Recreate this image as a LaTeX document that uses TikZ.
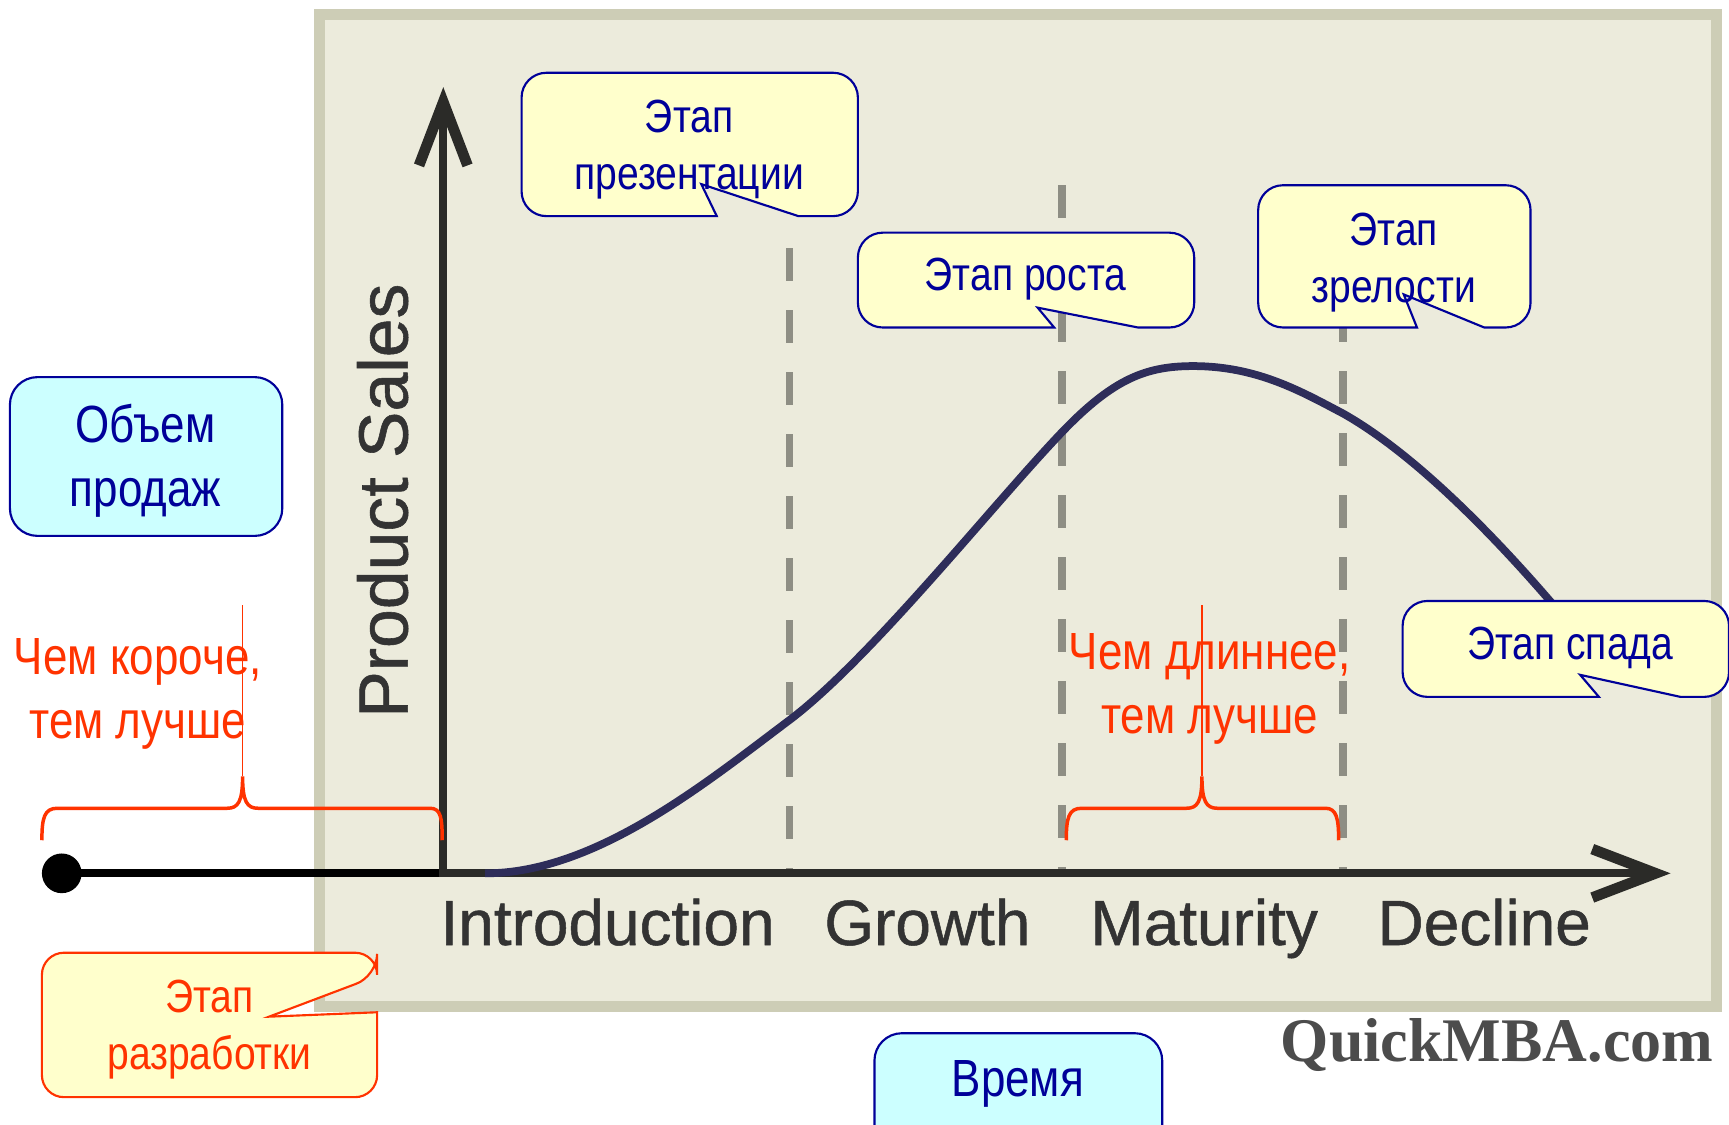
\documentclass[tikz,border=0pt]{standalone}
\usepackage{fontspec}
\setmainfont{Liberation Sans}
\newfontfamily\narrowsans[FakeStretch=0.84]{Liberation Sans}
\newfontfamily\chartsans[FakeBold=0.8]{Liberation Sans}
\newfontfamily\webserif{Liberation Serif}
\usetikzlibrary{arrows.meta}
\definecolor{panelbg}{HTML}{ECEBDC}
\definecolor{panelrim}{HTML}{CDCDB6}
\definecolor{notefill}{HTML}{FFFFCC}
\definecolor{notenavy}{HTML}{000099}
\definecolor{boxcyan}{HTML}{CCFFFF}
\definecolor{redorange}{HTML}{FF3300}
\definecolor{curvenavy}{HTML}{2E2D5A}
\definecolor{dashgray}{HTML}{8E8E84}
\definecolor{axisdark}{HTML}{2B2B28}
\definecolor{labelgray}{HTML}{333333}
\begin{document}
\begin{tikzpicture}[x=0.02cm,y=-0.02cm]
 \tikzstyle{note} = [draw=notenavy, fill=notefill, line width=1.1pt];
 \tikzstyle{rednote} = [draw=redorange, fill=notefill, line width=1.1pt];
 \tikzstyle{cyanbox} = [draw=notenavy, fill=boxcyan, line width=1.1pt, rounded corners=0.5cm];
 \tikzstyle{phase} = [dashgray, line width=4pt, dash pattern=on 17pt off 15pt];
 \tikzstyle{axis} = [axisdark, line width=4.3pt];
 \tikzstyle{barb} = [-{Straight Barb[length=1.15cm, width=0.88cm, line width=5.5pt]}];
 \tikzstyle{brace} = [redorange, line width=1.8pt];
 \tikzstyle{stage} = [font=\chartsans\fontsize{33}{33}\selectfont, text=labelgray, anchor=base, inner sep=0];
 \tikzstyle{notetext} = [font=\narrowsans\fontsize{24}{29.5}\selectfont, text=notenavy, align=center, inner sep=0];
 \tikzstyle{bigtext} = [font=\narrowsans\fontsize{27}{33}\selectfont, align=center, inner sep=0];
\useasboundingbox (0,0) rectangle (1568,1020);
\fill [white] (0,0) rectangle (1568,1020);

% chart panel
\fill [panelrim] (285,8) rectangle (1562,918);
\fill [panelbg] (295,18) rectangle (1552,908);

\draw [phase] (716,225) -- (716,792);
\draw [phase] (963,168) -- (963,792);
\draw [phase] (1218,168) -- (1218,792);

\coordinate (o) at (402,792);
\coordinate (ytop) at (402,79);
\coordinate (xend) at (1515,792);
\node [circle, fill=black, inner sep=0, minimum size=0.72cm] (v0) at (56,792) {};
\draw [line width=4.3pt] (v0.center) -- (o);
\draw [axis, barb] ([yshift=-2pt]o) -- (ytop);
\draw [axis, barb] ([xshift=-2pt]o) -- (xend);

\draw [curvenavy, line width=4pt] (440,792) .. controls (540,792) and (640,710) .. (716,653)
  .. controls (790,597) and (900,458) .. (963,392)
  .. controls (1010,343) and (1040,332) .. (1082,332)
  .. controls (1140,332) and (1180,355) .. (1218,375)
  .. controls (1280,410) and (1350,480) .. (1410,550);

\node [rotate=90, font=\chartsans\fontsize{36}{36}\selectfont, text=labelgray, inner sep=0] (v1) at (347,454) {Product Sales};
\node [stage] (v2) at (551,857) {Introduction};
\node [stage] (v3) at (841,857) {Growth};
\node [stage] (v4) at (1092,857) {Maturity};
\node [stage] (v5) at (1346,857) {Decline};
\node [font=\webserif\bfseries\fontsize{32}{32}\selectfont, text=black!70, anchor=base east, inner sep=0] (v6) at (1554,963) {QuickMBA.com};

% braces
\draw [brace] (38,762) .. controls (38,742) and (40,733) .. (52,733) -- (206,733) .. controls (216,733) and (220,727) .. (220,704) .. controls (220,727) and (224,733) .. (234,733) -- (390,733) .. controls (400,733) and (401,742) .. (401,762);
\draw [redorange, line width=0.6pt] (220,704) -- (220,549);
\draw [brace] (967,762) .. controls (967,742) and (969,733) .. (981,733) -- (1076,733) .. controls (1086,733) and (1090,727) .. (1090,704) .. controls (1090,727) and (1094,733) .. (1104,733) -- (1202,733) .. controls (1212,733) and (1214,742) .. (1214,762);
\draw [redorange, line width=0.6pt] (1090,704) -- (1090,549);
\node [bigtext, text=redorange] (v7) at (125,629) {Чем короче,\\тем лучше};
\node [bigtext, text=redorange] (v8) at (1097,625) {Чем длиннее,\\тем лучше};

% callouts
\draw [note] (650,196) -- (636,167) -- (724,196) -- (734,196) [rounded corners=0.45cm] -- (778,196) -- (778,66) -- (473,66) -- (473,196) -- (560,196) [sharp corners] -- cycle;
\node [notetext] (v9) at (625,136) {Этап\\презентации};

\draw [note] (956,297) -- (941,279) -- (1032,297) -- (1042,297) [rounded corners=0.45cm] -- (1083,297) -- (1083,211) -- (778,211) -- (778,297) -- (870,297) [sharp corners] -- cycle;
\node [notetext] (v10) at (930,253) {Этап роста};

\draw [note] (1285,297) -- (1273,267) -- (1346,297) -- (1352,297) [rounded corners=0.45cm] -- (1388,297) -- (1388,168) -- (1141,168) -- (1141,297) -- (1210,297) [sharp corners] -- cycle;
\node [notetext] (v11) at (1264,238) {Этап\\зрелости};

\draw [note] (1450,632) -- (1433,612) -- (1524,632) -- (1532,632) [rounded corners=0.45cm] -- (1568,632) -- (1568,545) -- (1272,545) -- (1272,632) -- (1360,632) [sharp corners] -- cycle;
\node [notetext] (v12) at (1424,588) {Этап спада};

\draw [rednote] (244,922) -- (342,918) -- (342,940) [rounded corners=0.4cm] -- (342,995) -- (38,995) -- (38,864) -- (342,864) -- (342,885) [sharp corners] -- cycle;
\node [notetext, text=redorange] (v13) at (190,934) {Этап\\разработки};

\draw [cyanbox] (9,342) rectangle (256,486);
\node [bigtext, text=notenavy] (v14) at (132,418) {Объем\\продаж};
\draw [cyanbox] (793,937) rectangle (1054,1045);
\node [bigtext, text=notenavy] (v15) at (923,983) {Время};

\end{tikzpicture}
\end{document}
